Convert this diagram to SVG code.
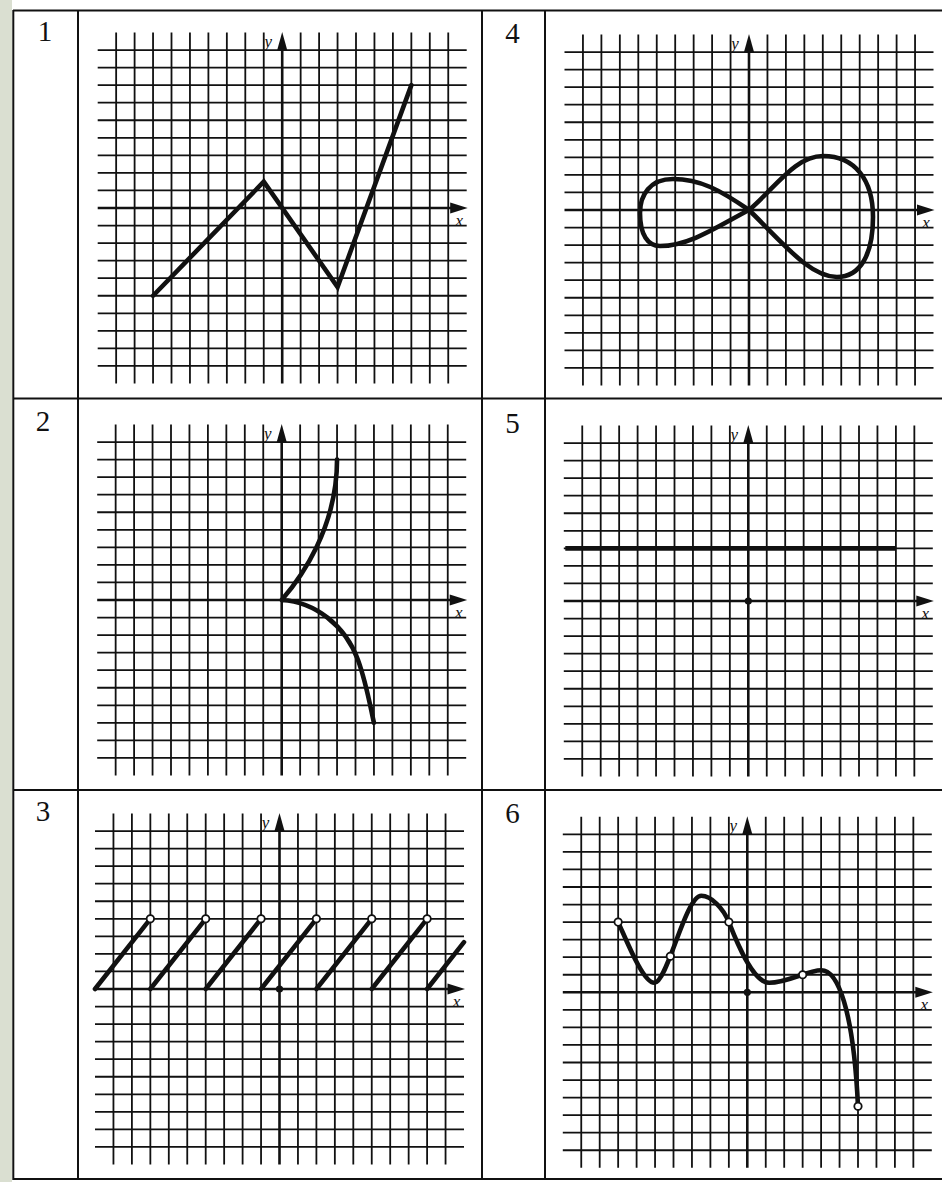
<svg xmlns="http://www.w3.org/2000/svg" xmlns:xlink="http://www.w3.org/1999/xlink" width="942" height="1182" viewBox="0 0 942 1182">
<style>
.grid{stroke:#111;stroke-width:1.8;fill:none}
.axis{stroke:#111;stroke-width:2.6;fill:none}
.arrow{fill:#111}
.curve{stroke:#111;stroke-width:4.6;fill:none;stroke-linecap:round;stroke-linejoin:round}
.poly{stroke:#111;stroke-width:4.6;fill:none;stroke-linecap:round;stroke-linejoin:miter;stroke-miterlimit:6}
.open{fill:#fff;stroke:#111;stroke-width:1.8}
.dot{fill:#111}
.num{font-family:"Liberation Serif","Times New Roman",serif;font-size:29px;fill:#111;text-anchor:middle}
.ax{font-family:"Liberation Serif","Times New Roman",serif;font-style:italic;font-size:17px;fill:#111;text-anchor:middle}
.frame{stroke:#111;stroke-width:2;fill:none}
</style>
<defs>
<g id="grid">
<path class="grid" d="M-166.05-175.5V175.5M-147.6-175.5V175.5M-129.15-175.5V175.5M-110.7-175.5V175.5M-92.25-175.5V175.5M-73.8-175.5V175.5M-55.35-175.5V175.5M-36.9-175.5V175.5M-18.45-175.5V175.5M18.45-175.5V175.5M36.9-175.5V175.5M55.35-175.5V175.5M73.8-175.5V175.5M92.25-175.5V175.5M110.7-175.5V175.5M129.15-175.5V175.5M147.6-175.5V175.5M166.05-175.5V175.5"/>
<path class="grid" d="M-184.5-157.95H184.5M-184.5-140.4H184.5M-184.5-122.85H184.5M-184.5-105.3H184.5M-184.5-87.75H184.5M-184.5-70.2H184.5M-184.5-52.65H184.5M-184.5-35.1H184.5M-184.5-17.55H184.5M-184.5 17.55H184.5M-184.5 35.1H184.5M-184.5 52.65H184.5M-184.5 70.2H184.5M-184.5 87.75H184.5M-184.5 105.3H184.5M-184.5 122.85H184.5M-184.5 140.4H184.5M-184.5 157.95H184.5"/>
<path class="axis" d="M-184.5 0H170M0 175.5V-160"/>
<polygon class="arrow" points="185.5,0 168,-5.5 168,5.5"/>
<polygon class="arrow" points="0,-176 -5,-158 5,-158"/>
<text class="ax" x="-14" y="-161">y</text>
<text class="ax" x="177" y="18">x</text>
</g>
</defs>
<rect x="0" y="0" width="942" height="1182" fill="#fff"/>
<rect x="0" y="0" width="12" height="1182" fill="#dadfd1"/>
<g id="table">
<path class="frame" d="M13 10.5H942M13.3 10V1180M78 10V1180M482 10V1180M545 10V1180M13 398.5H942M13 790H942M13 1179H942"/>
<text class="num" x="45" y="41">1</text>
<text class="num" x="43" y="431">2</text>
<text class="num" x="43" y="821">3</text>
<text class="num" x="512.5" y="43">4</text>
<text class="num" x="512.5" y="433">5</text>
<text class="num" x="512.5" y="823">6</text>
</g>
<g id="panel-1" transform="translate(282.2,208)">
<use xlink:href="#grid" href="#grid"/>
<path class="poly" d="M-129.15,87.75 L-18.45,-26.3 L55.35,79 L129.15,-122.85"/>
</g>
<g id="panel-2" transform="translate(281.7,600)">
<use xlink:href="#grid" href="#grid"/>
<path class="curve" d="M0,0 C19,-22 55.35,-72 55.35,-140.4 M0,0 C33.3,2 63.3,25 76.3,60 C84.3,82 88.3,105 92.25,122.85"/>
</g>
<g id="panel-3" transform="translate(279.5,989)">
<use xlink:href="#grid" href="#grid"/>
<path class="curve" d="M-184.5,0L-129.15,-70.2M-129.15,0L-73.8,-70.2M-73.8,0L-18.45,-70.2M-18.45,0L36.9,-70.2M36.9,0L92.25,-70.2M92.25,0L147.6,-70.2M147.6,0L184.5,-46.8"/>
<circle class="open" cx="-129.15" cy="-70.2" r="3.7"/>
<circle class="open" cx="-73.8" cy="-70.2" r="3.7"/>
<circle class="open" cx="-18.45" cy="-70.2" r="3.7"/>
<circle class="open" cx="36.9" cy="-70.2" r="3.7"/>
<circle class="open" cx="92.25" cy="-70.2" r="3.7"/>
<circle class="open" cx="147.6" cy="-70.2" r="3.7"/>
<circle class="dot" cx="0" cy="0" r="3.6"/>
</g>
<g id="panel-4" transform="translate(749,210)">
<use xlink:href="#grid" href="#grid"/>
<path class="curve" d="M0,0 C26,-22 46,-54 74,-54 C106,-54 124,-30 124,7 C124,45 111,67 88,67 C61,67 36,35 0,0 C-29,-20 -49,-31 -76,-31 C-99,-31 -109,-15 -109,3 C-109,25 -101,36 -89,36 C-59,36 -29,15 0,0Z"/>
</g>
<g id="panel-5" transform="translate(748.3,601)">
<use xlink:href="#grid" href="#grid"/>
<path class="curve" d="M-183,-52.65H147.6" style="stroke-linecap:butt"/>
<circle class="dot" cx="0" cy="0" r="3.6"/>
</g>
<g id="panel-6" transform="translate(747.3,992.3)">
<use xlink:href="#grid" href="#grid"/>
<path class="curve" d="M-129.15,-70.2 C-120,-50 -104,-9.5 -93,-9.5 C-80,-9.5 -62,-96.5 -46,-96.5 C-36,-96.5 -24,-84 -18.45,-70.2 C-12.5,-55 5,-9.5 22,-9.5 C40,-9.5 60,-22 74,-22 C90,-22 106,15 110.7,114"/>
<circle class="open" cx="-129.15" cy="-70.2" r="3.7"/>
<circle class="open" cx="-77" cy="-36" r="3.7"/>
<circle class="open" cx="-18.45" cy="-70.2" r="3.7"/>
<circle class="open" cx="55.35" cy="-17.55" r="3.7"/>
<circle class="open" cx="110.7" cy="114" r="3.7"/>
<circle class="dot" cx="0" cy="0" r="3.6"/>
</g>
</svg>
